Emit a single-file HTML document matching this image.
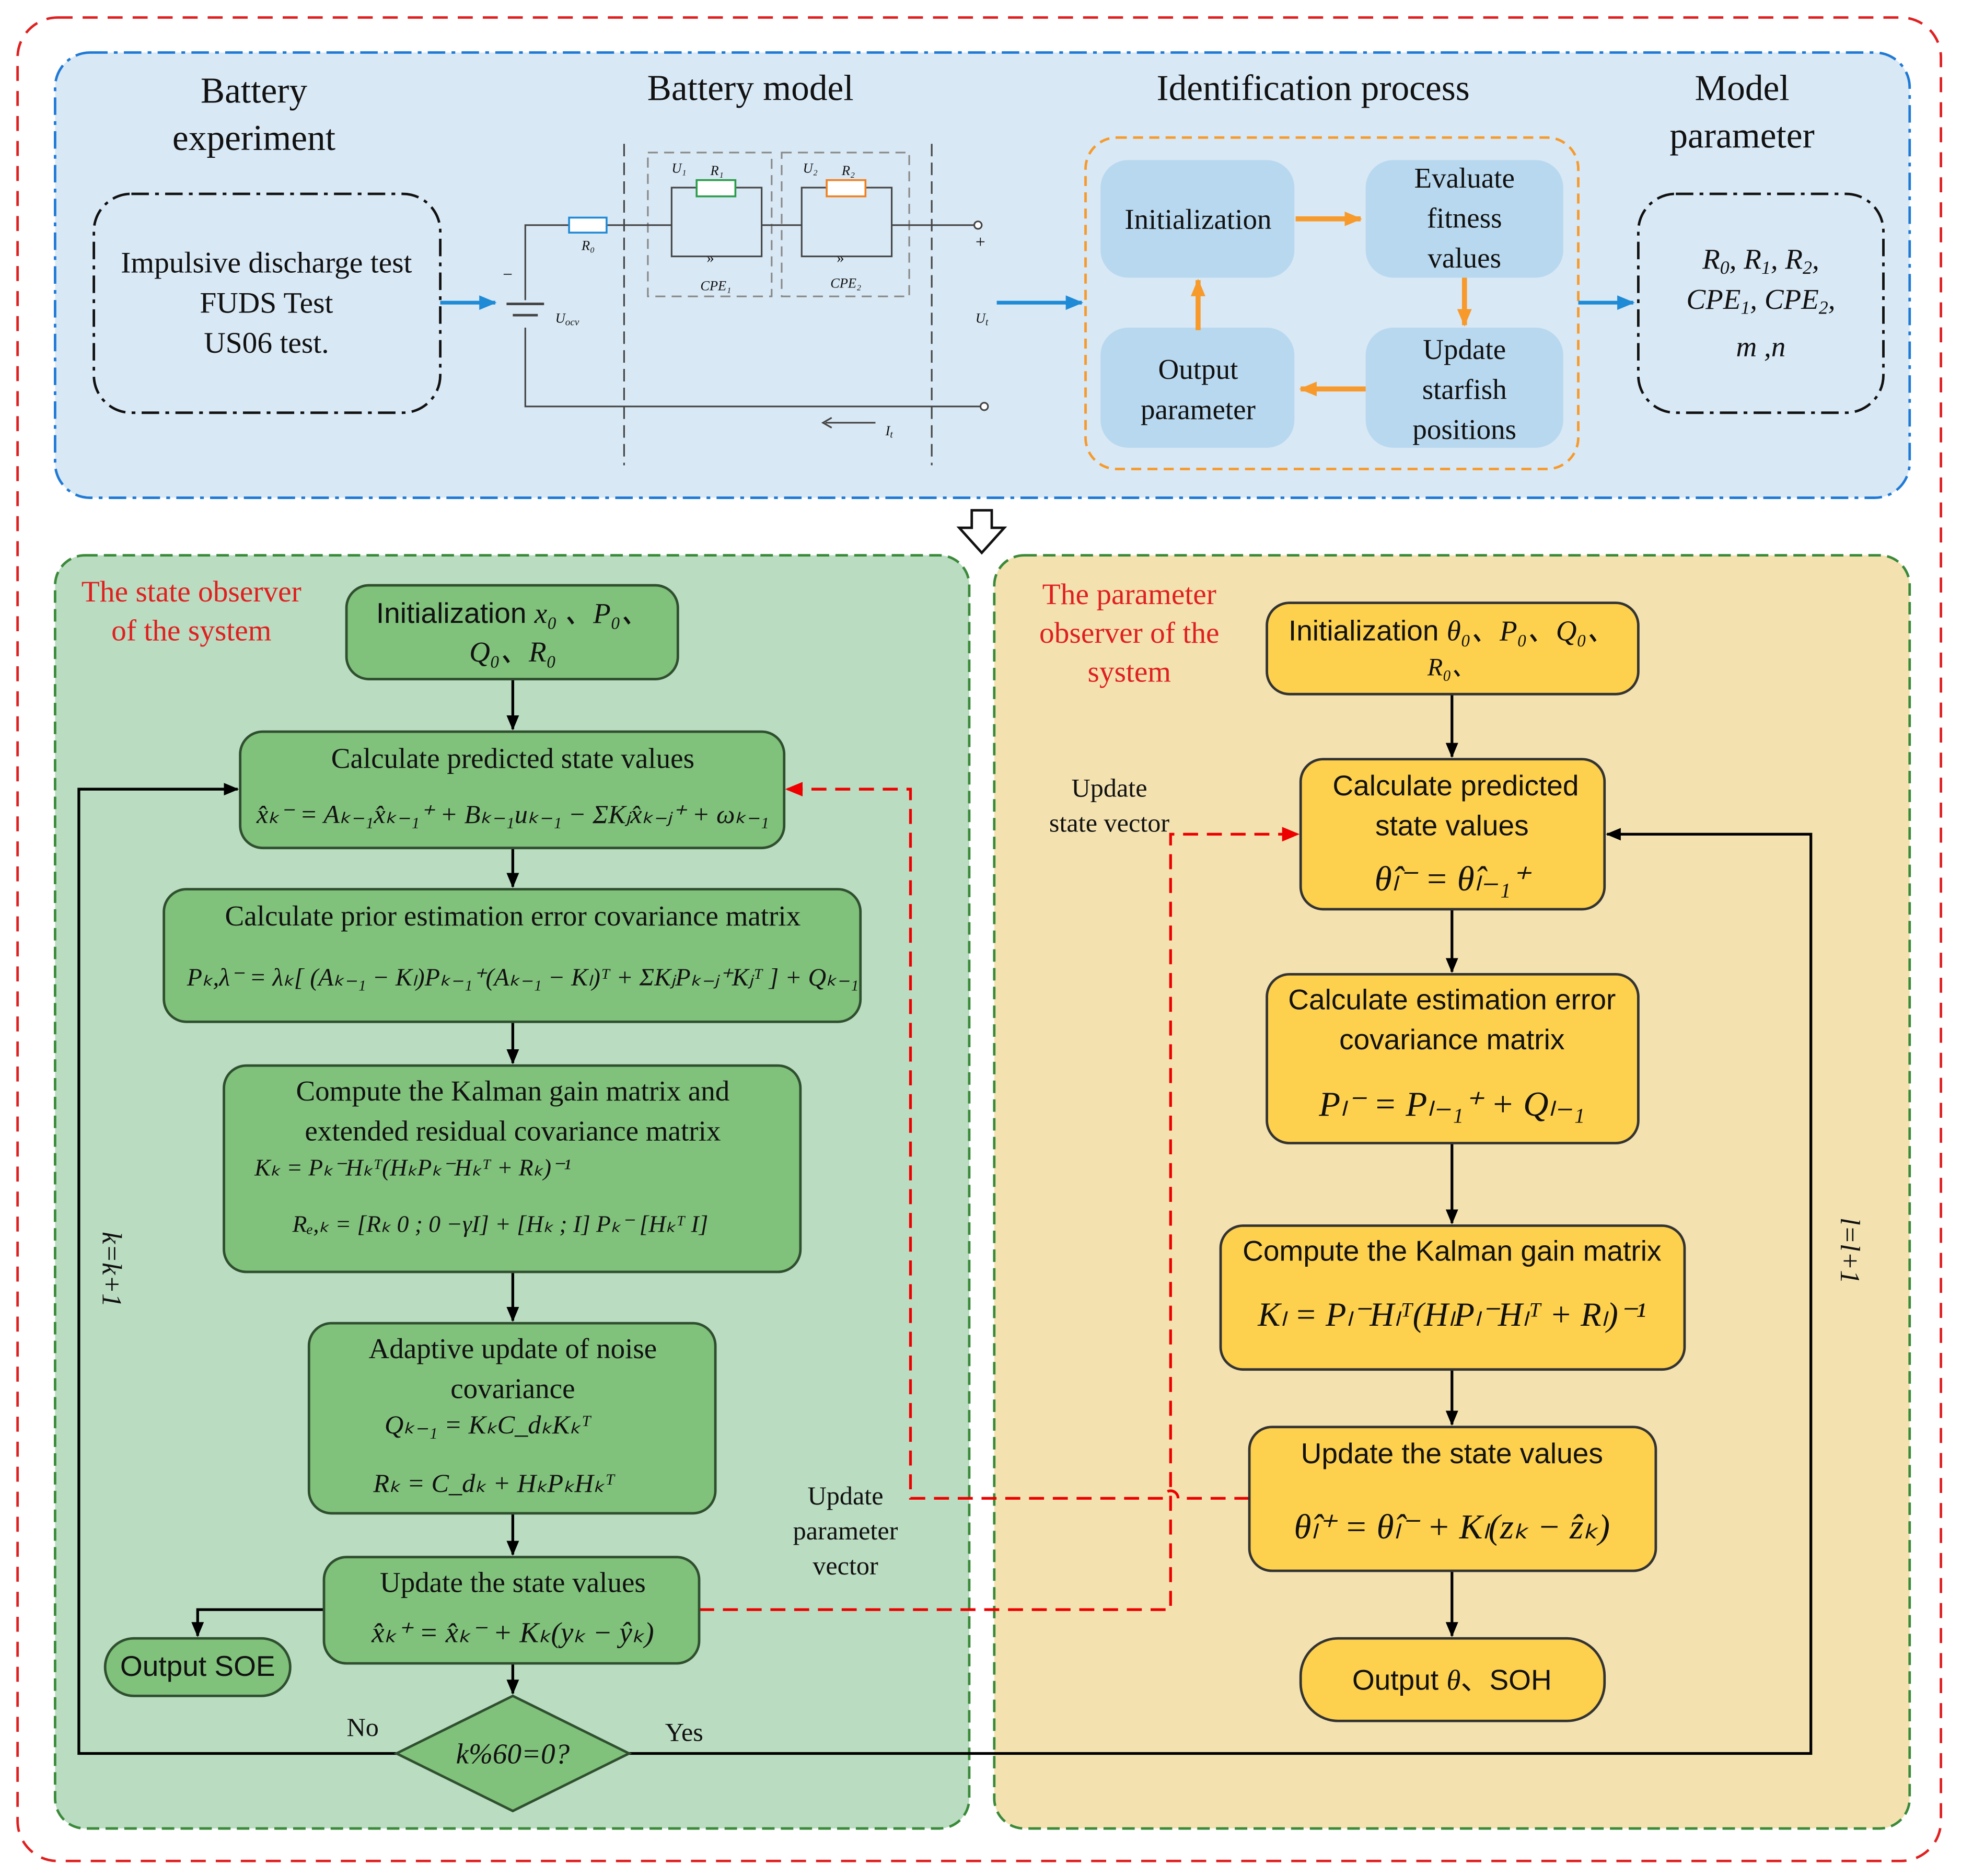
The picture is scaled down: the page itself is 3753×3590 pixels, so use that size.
<!DOCTYPE html>
<html><head><meta charset="utf-8"><style>
html,body{margin:0;padding:0;background:#fff}
svg{display:block}
text{font-family:"Liberation Serif",serif;fill:#111}
.s{font-family:"Liberation Sans",sans-serif}
.m{font-style:italic}
</style></head><body>
<svg width="3753" height="3590" viewBox="0 0 1568 1500" xmlns="http://www.w3.org/2000/svg">
<defs>
<marker id="ak" viewBox="0 0 12 10" markerWidth="12" markerHeight="10" refX="11" refY="5" orient="auto" markerUnits="userSpaceOnUse"><path d="M0,0 L12,5 L0,10 z" fill="#000"/></marker>
<marker id="ar" viewBox="0 0 12 10" markerWidth="14" markerHeight="12" refX="11" refY="5" orient="auto" markerUnits="userSpaceOnUse"><path d="M0,0 L12,5 L0,10 z" fill="#e00"/></marker>
<marker id="ao" viewBox="0 0 12 10" markerWidth="14" markerHeight="12" refX="11" refY="5" orient="auto" markerUnits="userSpaceOnUse"><path d="M0,0 L12,5 L0,10 z" fill="#f79a2b"/></marker>
<marker id="ab2" viewBox="0 0 12 10" markerWidth="14" markerHeight="12" refX="11" refY="5" orient="auto" markerUnits="userSpaceOnUse"><path d="M0,0 L12,5 L0,10 z" fill="#1f8ad6"/></marker>
</defs>
<rect x="14" y="14" width="1538" height="1474" rx="32" fill="#fff" stroke="#e02020" stroke-width="2" stroke-dasharray="12,8"/>
<rect x="44" y="42" width="1483" height="356" rx="28" fill="#d8e8f5" stroke="#1f7ad6" stroke-width="2" stroke-dasharray="14,5,3,5"/>
<text x="203" y="82" font-size="29" text-anchor="middle">Battery</text>
<text x="203" y="120" font-size="29" text-anchor="middle">experiment</text>
<rect x="75" y="155" width="277" height="175" rx="30" fill="none" stroke="#111" stroke-width="2" stroke-dasharray="14,5,3,5"/>
<text x="213" y="218" font-size="24" text-anchor="middle">Impulsive discharge test</text>
<text x="213" y="250" font-size="24" text-anchor="middle">FUDS Test</text>
<text x="213" y="282" font-size="24" text-anchor="middle">US06 test.</text>
<line x1="352" y1="242" x2="396" y2="242" stroke="#1f8ad6" stroke-width="3" marker-end="url(#ab2)"/>
<text x="600" y="80" font-size="29" text-anchor="middle">Battery model</text>
<g stroke="#444" stroke-width="1.3" fill="none">
<line x1="499" y1="115" x2="499" y2="372" stroke-dasharray="10,5"/>
<line x1="745" y1="115" x2="745" y2="372" stroke-dasharray="10,5"/>
<rect x="518" y="122" width="99" height="115" stroke="#888" stroke-dasharray="8,5"/>
<rect x="625" y="122" width="102" height="115" stroke="#888" stroke-dasharray="8,5"/>
<polyline points="420,240 420,180 455,180"/>
<polyline points="485,180 537,180"/>
<rect x="537" y="150" width="72" height="55"/>
<line x1="609" y1="180" x2="641" y2="180"/>
<rect x="641" y="150" width="72" height="55"/>
<line x1="713" y1="180" x2="780" y2="180"/>
<circle cx="782" cy="180" r="3" fill="#fff"/>
<polyline points="420,262 420,325 784,325"/>
<circle cx="787" cy="325" r="3" fill="#fff"/>
<line x1="405" y1="243" x2="435" y2="243" stroke-width="2"/>
<line x1="410" y1="252" x2="430" y2="252" stroke-width="2"/>
<line x1="700" y1="338" x2="660" y2="338"/>
<polyline points="665,334 658,338 665,342"/>
</g>
<rect x="455" y="174" width="30" height="12" fill="#fff" stroke="#1f8ad6" stroke-width="1.5"/>
<rect x="557" y="144" width="31" height="13" fill="#fff" stroke="#2a9d4a" stroke-width="1.5"/>
<rect x="661" y="144" width="31" height="13" fill="#fff" stroke="#f08020" stroke-width="1.5"/>
<text x="565" y="210" font-size="12" fill="#2a9d4a">»</text>
<text x="669" y="210" font-size="12" fill="#f08020">»</text>
<g font-size="11" class="m">
<text x="465" y="200">R₀</text><text x="537" y="138">U₁</text><text x="568" y="140">R₁</text>
<text x="642" y="138">U₂</text><text x="673" y="140">R₂</text>
<text x="560" y="232">CPE₁</text><text x="664" y="230">CPE₂</text>
<text x="444" y="258">U<tspan font-size="8" dy="2">ocv</tspan></text>
<text x="780" y="258">U<tspan font-size="8" dy="2">t</tspan></text>
<text x="708" y="348">I<tspan font-size="8" dy="2">t</tspan></text>
</g>
<text x="402" y="224" font-size="14">−</text><text x="780" y="198" font-size="14">+</text>
<line x1="797" y1="242" x2="865" y2="242" stroke="#1f8ad6" stroke-width="3" marker-end="url(#ab2)"/>
<text x="1050" y="80" font-size="29" text-anchor="middle">Identification process</text>
<rect x="868" y="110" width="394" height="265" rx="25" fill="none" stroke="#f79a2b" stroke-width="2" stroke-dasharray="8,5"/>
<g fill="#b8d8ef">
<rect x="880" y="128" width="155" height="94" rx="22"/>
<rect x="1092" y="128" width="158" height="94" rx="22"/>
<rect x="1092" y="262" width="158" height="96" rx="22"/>
<rect x="880" y="262" width="155" height="96" rx="22"/>
</g>
<g font-size="23" text-anchor="middle" class="s">
<text x="958" y="183">Initialization</text>
<text x="1171" y="150">Evaluate</text><text x="1171" y="182">fitness</text><text x="1171" y="214">values</text>
<text x="1171" y="287">Update</text><text x="1171" y="319">starfish</text><text x="1171" y="351">positions</text>
<text x="958" y="303">Output</text><text x="958" y="335">parameter</text>
</g>
<g stroke="#f79a2b" stroke-width="4">
<line x1="1036" y1="175" x2="1088" y2="175" marker-end="url(#ao)"/>
<line x1="1171" y1="222" x2="1171" y2="260" marker-end="url(#ao)"/>
<line x1="1092" y1="311" x2="1040" y2="311" marker-end="url(#ao)"/>
<line x1="958" y1="264" x2="958" y2="224" marker-end="url(#ao)"/>
</g>
<line x1="1262" y1="242" x2="1306" y2="242" stroke="#1f8ad6" stroke-width="3" marker-end="url(#ab2)"/>
<text x="1393" y="80" font-size="29" text-anchor="middle">Model</text>
<text x="1393" y="118" font-size="29" text-anchor="middle">parameter</text>
<rect x="1310" y="155" width="196" height="175" rx="30" fill="none" stroke="#111" stroke-width="2" stroke-dasharray="14,5,3,5"/>
<g font-size="23" class="m" text-anchor="middle">
<text x="1408" y="215">R<tspan font-size="15" dy="4">0</tspan><tspan dy="-4">, R</tspan><tspan font-size="15" dy="4">1</tspan><tspan dy="-4">, R</tspan><tspan font-size="15" dy="4">2</tspan><tspan dy="-4">,</tspan></text>
<text x="1408" y="247">CPE<tspan font-size="15" dy="4">1</tspan><tspan dy="-4">, CPE</tspan><tspan font-size="15" dy="4">2</tspan><tspan dy="-4">,</tspan></text>
<text x="1408" y="285">m  ,n</text>
</g>
<path d="M777,408 L793,408 L793,422 L803,422 L785,442 L767,422 L777,422 Z" fill="#fff" stroke="#111" stroke-width="2"/>
<rect x="44" y="444" width="731" height="1018" rx="24" fill="#badcc1" stroke="#3a8a3a" stroke-width="2" stroke-dasharray="10,5"/>
<rect x="795" y="444" width="732" height="1018" rx="24" fill="#f3e2b0" stroke="#3a8a3a" stroke-width="2" stroke-dasharray="10,5"/>
<text x="153" y="481" font-size="24" text-anchor="middle" style="fill:#e02020">The state observer</text>
<text x="153" y="512" font-size="24" text-anchor="middle" style="fill:#e02020">of the system</text>
<text x="903" y="483" font-size="24" text-anchor="middle" style="fill:#e02020">The parameter</text>
<text x="903" y="514" font-size="24" text-anchor="middle" style="fill:#e02020">observer of the</text>
<text x="903" y="545" font-size="24" text-anchor="middle" style="fill:#e02020">system</text>
<g stroke="#000" stroke-width="2.2" fill="none">
<line x1="410" y1="543" x2="410" y2="583" marker-end="url(#ak)"/>
<line x1="410" y1="678" x2="410" y2="709" marker-end="url(#ak)"/>
<line x1="410" y1="817" x2="410" y2="850" marker-end="url(#ak)"/>
<line x1="410" y1="1017" x2="410" y2="1056" marker-end="url(#ak)"/>
<line x1="410" y1="1210" x2="410" y2="1243" marker-end="url(#ak)"/>
<line x1="410" y1="1330" x2="410" y2="1354" marker-end="url(#ak)"/>
<polyline points="259,1287 158,1287 158,1308" marker-end="url(#ak)"/>
<polyline points="317,1402 63,1402 63,631 190,631" marker-end="url(#ak)"/>
<polyline points="503,1402 1448,1402 1448,667 1285,667" marker-end="url(#ak)"/>
<line x1="1161" y1="555" x2="1161" y2="605" marker-end="url(#ak)"/>
<line x1="1161" y1="727" x2="1161" y2="777" marker-end="url(#ak)"/>
<line x1="1161" y1="914" x2="1161" y2="978" marker-end="url(#ak)"/>
<line x1="1161" y1="1095" x2="1161" y2="1139" marker-end="url(#ak)"/>
<line x1="1161" y1="1256" x2="1161" y2="1308" marker-end="url(#ak)"/>
</g>
<g stroke="#e00" stroke-width="2.2" fill="none" stroke-dasharray="12,7">
<polyline points="559,1287 936,1287 936,667 1038,667" marker-end="url(#ar)"/>
<path d="M999,1198 L942,1198 A6,6 0 0 0 930,1198 L728,1198 L728,631 L629,631" marker-end="url(#ar)"/>
</g>
<text x="887" y="637" font-size="21" text-anchor="middle">Update</text>
<text x="887" y="665" font-size="21" text-anchor="middle">state vector</text>
<text x="676" y="1203" font-size="21" text-anchor="middle">Update</text>
<text x="676" y="1231" font-size="21" text-anchor="middle">parameter</text>
<text x="676" y="1259" font-size="21" text-anchor="middle">vector</text>
<text x="290" y="1388" font-size="21" text-anchor="middle">No</text>
<text x="547" y="1392" font-size="21" text-anchor="middle">Yes</text>
<text transform="translate(82,1015) rotate(90)" font-size="22" class="m" text-anchor="middle">k=k+1</text>
<text transform="translate(1472,1000) rotate(90)" font-size="22" class="m" text-anchor="middle">l=l+1</text>
<g fill="#80c17b" stroke="#2f4f2f" stroke-width="2">
<rect x="277" y="468" width="265" height="75" rx="18"/>
<rect x="192" y="585" width="435" height="93" rx="18"/>
<rect x="131" y="711" width="557" height="106" rx="18"/>
<rect x="179" y="852" width="461" height="165" rx="18"/>
<rect x="247" y="1058" width="325" height="152" rx="18"/>
<rect x="259" y="1245" width="300" height="85" rx="18"/>
<rect x="84" y="1310" width="148" height="46" rx="23"/>
<polygon points="410,1356 503,1402 410,1448 317,1402"/>
</g>
<g font-size="23" text-anchor="middle">
<text x="410" y="498" class="s">Initialization <tspan class="m" font-family="Liberation Serif">x₀ 、P₀、</tspan></text>
<text x="410" y="529" class="m">Q₀、R₀</text>
<text x="410" y="614">Calculate predicted state values</text>
<text x="410" y="658" class="m" font-size="21">x̂ₖ⁻ = Aₖ₋₁x̂ₖ₋₁⁺ + Bₖ₋₁uₖ₋₁ − ΣKⱼx̂ₖ₋ⱼ⁺ + ωₖ₋₁</text>
<text x="410" y="740">Calculate prior estimation error covariance matrix</text>
<text x="418" y="788" class="m" font-size="20">Pₖ,λ⁻ = λₖ[ (Aₖ₋₁ − Kₗ)Pₖ₋₁⁺(Aₖ₋₁ − Kₗ)ᵀ + ΣKⱼPₖ₋ⱼ⁺Kⱼᵀ ] + Qₖ₋₁</text>
<text x="410" y="880">Compute the Kalman gain matrix and</text>
<text x="410" y="912">extended residual covariance matrix</text>
<text x="330" y="940" class="m" font-size="19">Kₖ = Pₖ⁻Hₖᵀ(HₖPₖ⁻Hₖᵀ + Rₖ)⁻¹</text>
<text x="400" y="985" class="m" font-size="19">Rₑ,ₖ = [Rₖ  0 ; 0  −γI] + [Hₖ ; I] Pₖ⁻ [Hₖᵀ  I]</text>
<text x="410" y="1086">Adaptive update of noise</text>
<text x="410" y="1118">covariance</text>
<text x="390" y="1146" class="m" font-size="21">Qₖ₋₁ = KₖC_dₖKₖᵀ</text>
<text x="395" y="1193" class="m" font-size="21">Rₖ = C_dₖ + HₖPₖHₖᵀ</text>
<text x="410" y="1273">Update the state values</text>
<text x="410" y="1313" class="m">x̂ₖ⁺ = x̂ₖ⁻ + Kₖ(yₖ − ŷₖ)</text>
<text x="158" y="1340" class="s">Output SOE</text>
<text x="410" y="1410" class="m">k%60=0?</text>
</g>
<g fill="#fdd04d" stroke="#333" stroke-width="2">
<rect x="1013" y="482" width="297" height="73" rx="18"/>
<rect x="1040" y="607" width="243" height="120" rx="18"/>
<rect x="1013" y="779" width="297" height="135" rx="18"/>
<rect x="976" y="980" width="371" height="115" rx="18"/>
<rect x="999" y="1141" width="325" height="115" rx="18"/>
<rect x="1040" y="1310" width="243" height="66" rx="30"/>
</g>
<g font-size="23" text-anchor="middle">
<text x="1161" y="512" class="s">Initialization <tspan class="m" font-family="Liberation Serif">θ₀、P₀、Q₀、</tspan></text>
<text x="1161" y="540" class="m" font-size="20">R₀、</text>
<text x="1164" y="636" class="s">Calculate predicted</text>
<text x="1161" y="668" class="s">state values</text>
<text x="1161" y="712" class="m" font-size="28">θ̂ₗ⁻ = θ̂ₗ₋₁⁺</text>
<text x="1161" y="807" class="s">Calculate estimation error</text>
<text x="1161" y="839" class="s">covariance matrix</text>
<text x="1161" y="892" class="m" font-size="28">Pₗ⁻ = Pₗ₋₁⁺ + Qₗ₋₁</text>
<text x="1161" y="1008" class="s">Compute the Kalman gain matrix</text>
<text x="1161" y="1060" class="m" font-size="27">Kₗ = Pₗ⁻Hₗᵀ(HₗPₗ⁻Hₗᵀ + Rₗ)⁻¹</text>
<text x="1161" y="1170" class="s">Update the state values</text>
<text x="1161" y="1230" class="m" font-size="28">θ̂ₗ⁺ = θ̂ₗ⁻ + Kₗ(zₖ − ẑₖ)</text>
<text x="1161" y="1351" class="s">Output <tspan class="m" font-family="Liberation Serif">θ</tspan>、SOH</text>
</g>
</svg>
</body></html>
